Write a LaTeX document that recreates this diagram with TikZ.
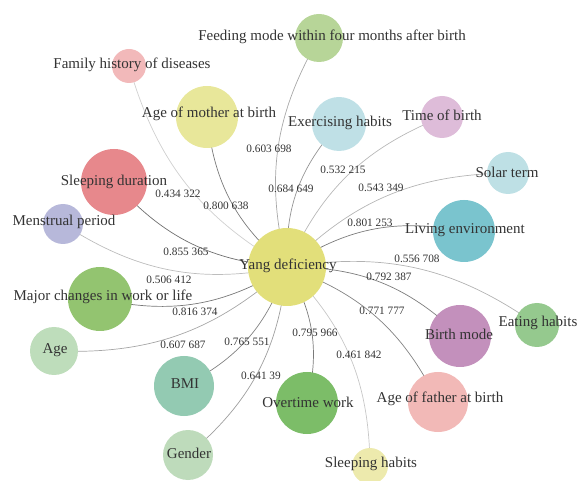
\documentclass[tikz,border=0pt]{standalone}
\usepackage{fontspec}
\setmainfont{Liberation Serif}
\pgfdeclarelayer{background}
\pgfsetlayers{background,main}
\definecolor{txt}{HTML}{333333}
\definecolor{cYang}{HTML}{E2DF7A}
\definecolor{cFam}{HTML}{F2B9BA}
\definecolor{cMoth}{HTML}{E8E79A}
\definecolor{cSlDur}{HTML}{E7888C}
\definecolor{cMens}{HTML}{B7B8DA}
\definecolor{cFeed}{HTML}{B7D598}
\definecolor{cExer}{HTML}{BFE0E6}
\definecolor{cTime}{HTML}{DEBCD9}
\definecolor{cSolar}{HTML}{BEE0E5}
\definecolor{cLiv}{HTML}{7AC4CE}
\definecolor{cEat}{HTML}{95C98E}
\definecolor{cBirth}{HTML}{C390BC}
\definecolor{cFath}{HTML}{F2B9B7}
\definecolor{cSlHab}{HTML}{EDEAAD}
\definecolor{cOver}{HTML}{7CBD68}
\definecolor{cGend}{HTML}{BEDBBB}
\definecolor{cBMI}{HTML}{93CAB2}
\definecolor{cAge}{HTML}{BEDDBB}
\definecolor{cMajor}{HTML}{93C470}
\begin{document}
\begin{tikzpicture}[x=1pt,y=-1pt,
  bub/.style={circle,inner sep=0pt,draw=none},
  lbl/.style={inner sep=0pt,text=txt,font=\fontsize{15}{15}\selectfont},
  lnk/.style={line width=0.7pt,bend left=22},
  wt/.style={inner sep=0pt,text=txt,font=\fontsize{11.3}{12}\selectfont}]
\useasboundingbox (0,0) rectangle (579,481);
% bubbles
\node[bub,fill=cYang,minimum size=78pt] (yang) at (287,267) {};
\node[bub,fill=cFam,minimum size=34pt] (fam) at (129,66) {};
\node[bub,fill=cMoth,minimum size=62pt] (moth) at (207,117) {};
\node[bub,fill=cSlDur,minimum size=66pt] (sldur) at (114,182) {};
\node[bub,fill=cMens,minimum size=40pt] (mens) at (63,224) {};
\node[bub,fill=cFeed,minimum size=48pt] (feed) at (319,38) {};
\node[bub,fill=cExer,minimum size=54pt] (exer) at (339,124) {};
\node[bub,fill=cTime,minimum size=42pt] (time) at (442,117) {};
\node[bub,fill=cSolar,minimum size=42pt] (solar) at (508,173) {};
\node[bub,fill=cLiv,minimum size=62pt] (liv) at (464,231) {};
\node[bub,fill=cEat,minimum size=44pt] (eat) at (537,325) {};
\node[bub,fill=cBirth,minimum size=62pt] (birth) at (460,336) {};
\node[bub,fill=cFath,minimum size=60pt] (fath) at (438,402) {};
\node[bub,fill=cSlHab,minimum size=36pt] (slhab) at (370,466) {};
\node[bub,fill=cOver,minimum size=62pt] (over) at (307,403) {};
\node[bub,fill=cGend,minimum size=50pt] (gend) at (188,455) {};
\node[bub,fill=cBMI,minimum size=60pt] (bmi) at (184,386) {};
\node[bub,fill=cAge,minimum size=48pt] (age) at (54,351) {};
\node[bub,fill=cMajor,minimum size=64pt] (major) at (100,299) {};
% connectors
\begin{pgfonlayer}{background}
\draw[lnk,draw=black!34] (yang.center) to (feed.center);
\draw[lnk,draw=black!19] (yang.center) to (fam.center);
\draw[lnk,draw=black!52] (yang.center) to (moth.center);
\draw[lnk,draw=black!42] (yang.center) to (exer.center);
\draw[lnk,draw=black!28] (yang.center) to (time.center);
\draw[lnk,draw=black!29] (yang.center) to (solar.center);
\draw[lnk,draw=black!52] (yang.center) to (liv.center);
\draw[lnk,draw=black!30] (yang.center) to (eat.center);
\draw[lnk,draw=black!51] (yang.center) to (birth.center);
\draw[lnk,draw=black!57] (yang.center) to (sldur.center);
\draw[lnk,draw=black!26] (yang.center) to (mens.center);
\draw[lnk,draw=black!53] (yang.center) to (major.center);
\draw[lnk,draw=black!35] (yang.center) to (age.center);
\draw[lnk,draw=black!49] (yang.center) to (bmi.center);
\draw[lnk,draw=black!38] (yang.center) to (gend.center);
\draw[lnk,draw=black!52] (yang.center) to (over.center);
\draw[lnk,draw=black!22] (yang.center) to (slhab.center);
\draw[lnk,draw=black!49] (yang.center) to (fath.center);
\end{pgfonlayer}
% node texts
\node[lbl] (yangt) at (288,266) {Yang deficiency};
\node[lbl] (famt) at (132,65) {Family history of diseases};
\node[lbl] (motht) at (209,114) {Age of mother at birth};
\node[lbl] (sldurt) at (114,182) {Sleeping duration};
\node[lbl] (menst) at (64,222) {Menstrual period};
\node[lbl] (feedt) at (332,37) {Feeding mode within four months after birth};
\node[lbl] (exert) at (340,123) {Exercising habits};
\node[lbl] (timet) at (442,115) {Time of birth};
\node[lbl] (solart) at (507,172) {Solar term};
\node[lbl] (livt) at (465,230) {Living environment};
\node[lbl] (eatt) at (538,323) {Eating habits};
\node[lbl] (birtht) at (459,334) {Birth mode};
\node[lbl] (fatht) at (440,399) {Age of father at birth};
\node[lbl] (slhabt) at (371,464) {Sleeping habits};
\node[lbl] (overt) at (308,402) {Overtime work};
\node[lbl] (gendt) at (189,453) {Gender};
\node[lbl] (bmit) at (185,384) {BMI};
\node[lbl] (aget) at (55,350) {Age};
\node[lbl] (majort) at (103,297) {Major changes in work or life};
% weights
\node[wt] (wfeed) at (269,149) {0.603 698};
\node[wt] (wfam) at (178,194) {0.434 322};
\node[wt] (wmoth) at (226,206) {0.800 638};
\node[wt] (wexer) at (291,189) {0.684 649};
\node[wt] (wtime) at (343,170) {0.532 215};
\node[wt] (wsolar) at (381,188) {0.543 349};
\node[wt] (wliv) at (370,223) {0.801 253};
\node[wt] (weat) at (417,259) {0.556 708};
\node[wt] (wbirth) at (389,277) {0.792 387};
\node[wt] (wfath) at (382,311) {0.771 777};
\node[wt] (wover) at (315,333) {0.795 966};
\node[wt] (wslhab) at (359,355) {0.461 842};
\node[wt] (wsldur) at (186,252) {0.855 365};
\node[wt] (wmens) at (169,280) {0.506 412};
\node[wt] (wmajor) at (195,312) {0.816 374};
\node[wt] (wage) at (183,345) {0.607 687};
\node[wt] (wbmi) at (247,342) {0.765 551};
\node[wt] (wgend) at (261,376) {0.641 39};
\end{tikzpicture}
\end{document}
